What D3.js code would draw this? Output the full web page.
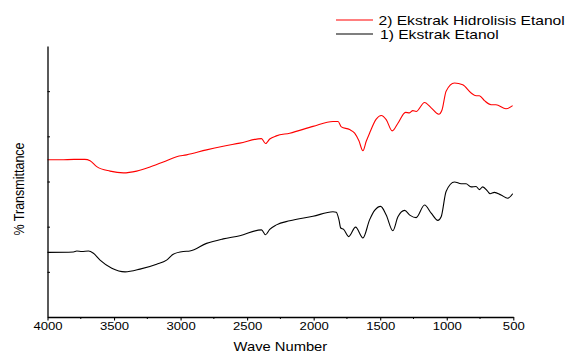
<!DOCTYPE html>
<html>
<head>
<meta charset="utf-8">
<script src="https://cdn.jsdelivr.net/npm/d3@7"></script>
<style>
  html, body { margin: 0; padding: 0; background: #fff; }
  svg { display: block; font-family: "Liberation Sans", Arial, sans-serif; }
</style>
</head>
<body>
<svg id="chart" width="579" height="354"></svg>
<script>
// ---- data ----
const xTicks = [4000, 3500, 3000, 2500, 2000, 1500, 1000, 500];
const xMinorTicks = [3750, 3250, 2750, 2250, 1750, 1250, 750];
const yTicks = [10, 20, 30, 40, 50];
const seriesNames = ["2) Ekstrak Hidrolisis Etanol", "1) Ekstrak Etanol"];

// Red: 2) Ekstrak Hidrolisis Etanol  [wavenumber, %T (arbitrary)]
const hidrolisisWave = [4000, 3900, 3800, 3720, 3680, 3630, 3530, 3430, 3330, 3230, 3130, 3030, 2955, 2805, 2680, 2555, 2392, 2362, 2330, 2280, 2180, 2005, 1855, 1817, 1792, 1730, 1692, 1660, 1630, 1605, 1580, 1530, 1492, 1455, 1410, 1367, 1310, 1280, 1255, 1230, 1167, 1117, 1060, 1035, 1005, 942, 880, 817, 780, 755, 717, 667, 630, 555, 505];
const hidrolisisT    = [34.8, 34.8, 34.9, 34.9, 34.6, 33.3, 32.3, 31.9, 32.3, 33.2, 34.3, 35.5, 35.9, 37.0, 37.8, 38.5, 39.5, 38.4, 39.4, 40.1, 40.7, 42.2, 43.3, 43.3, 42.1, 41.5, 40.7, 39.0, 36.8, 38.9, 40.7, 43.8, 44.6, 43.7, 41.2, 42.9, 45.3, 45.2, 45.7, 45.5, 47.5, 46.3, 44.9, 45.9, 50.0, 51.8, 51.4, 49.6, 49.0, 49.0, 47.9, 47.0, 47.0, 46.1, 46.8];

// Black: 1) Ekstrak Etanol
const etanolWave = [4000, 3805, 3780, 3742, 3692, 3655, 3605, 3517, 3417, 3305, 3180, 3105, 3055, 2980, 2930, 2805, 2680, 2555, 2392, 2362, 2330, 2280, 2180, 2005, 1855, 1830, 1810, 1797, 1775, 1737, 1685, 1630, 1580, 1542, 1497, 1455, 1405, 1367, 1317, 1275, 1230, 1167, 1117, 1067, 1042, 1005, 942, 892, 855, 817, 780, 755, 730, 692, 675, 642, 592, 542, 505];
const etanolT    = [14.3, 14.4, 14.6, 14.5, 14.6, 14.1, 12.6, 10.8, 10.0, 10.6, 11.7, 12.6, 13.9, 14.5, 14.6, 16.3, 17.3, 18.0, 19.3, 18.2, 19.4, 20.4, 21.3, 22.3, 23.3, 23.2, 21.5, 19.7, 19.4, 17.8, 19.9, 17.5, 21.5, 23.6, 24.5, 22.6, 19.1, 22.2, 23.6, 22.5, 22.0, 24.8, 23.0, 21.4, 22.2, 27.8, 29.9, 29.5, 29.5, 28.8, 28.9, 28.2, 28.8, 27.8, 27.3, 27.6, 27.0, 26.3, 27.3];

const seriesColors = ["#ff0000", "#000000"];

// ---- layout ----
const svg = d3.select("#chart");
const x = d3.scaleLinear().domain([4000, 500]).range([47.5, 513.3]);
const y = d3.scaleLinear().domain([0, 60]).range([317, 46]);

const line = d3.line()
  .x(d => x(d[0]))
  .y(d => y(d[1]))
  .curve(d3.curveMonotoneX);

const series = [
  d3.zip(hidrolisisWave, hidrolisisT),
  d3.zip(etanolWave, etanolT)
];

series.forEach((s, i) => {
  svg.append("path")
    .datum(s)
    .attr("fill", "none")
    .attr("stroke", seriesColors[i])
    .attr("stroke-width", 1.1)
    .attr("stroke-linejoin", "round")
    .attr("d", line);
});

// x axis
const xAxis = svg.append("g")
  .attr("transform", "translate(0,317)")
  .call(d3.axisBottom(x).tickValues(xTicks).tickSize(3.5).tickSizeOuter(0).tickFormat(d3.format("d")));
xAxis.select(".domain").attr("stroke-width", 1.3);
xAxis.selectAll(".tick line").attr("stroke-width", 1.1);
xAxis.selectAll(".tick text")
  .attr("font-size", 10.5)
  .attr("font-family", "Liberation Sans, Arial, sans-serif")
  .attr("fill", "#000")
  .attr("y", 6)
  .attr("dy", "0.71em")
  .attr("transform", "scale(1.25,1)");

svg.append("g")
  .attr("transform", "translate(0,317)")
  .selectAll("line")
  .data(xMinorTicks)
  .join("line")
  .attr("x1", d => x(d)).attr("x2", d => x(d))
  .attr("y1", 0).attr("y2", 2)
  .attr("stroke", "#000").attr("stroke-width", 1);

// y axis
const yAxis = svg.append("g")
  .attr("transform", "translate(47.5,0)")
  .call(d3.axisLeft(y).tickValues(yTicks).tickSize(-2.5).tickSizeOuter(0).tickFormat(""));
yAxis.select(".domain").attr("stroke-width", 1.3);
yAxis.selectAll(".tick line").attr("stroke-width", 1);

// axis titles
svg.append("text")
  .attr("transform", `translate(${(x(4000) + x(500)) / 2},351) scale(1.18,1)`)
  .attr("text-anchor", "middle")
  .attr("font-size", 12.5)
  .attr("fill", "#000")
  .text("Wave Number");

svg.append("text")
  .attr("transform", "translate(24,189) scale(1.15,1) rotate(-90)")
  .attr("text-anchor", "middle")
  .attr("font-size", 12.5)
  .attr("fill", "#000")
  .text("% Transmittance");

// legend
const legend = svg.append("g");
seriesNames.forEach((name, i) => {
  const ly = 20 + i * 14;
  legend.append("line")
    .attr("x1", 336).attr("x2", 373)
    .attr("y1", ly).attr("y2", ly)
    .attr("stroke", seriesColors[i]).attr("stroke-width", 1.1);
  legend.append("text")
    .attr("transform", `translate(${i === 0 ? 378.5 : 380},${ly + 4.5}) scale(1.3,1)`)
    .attr("font-size", 12)
    .attr("fill", "#000")
    .text(name);
});
</script>
</body>
</html>
